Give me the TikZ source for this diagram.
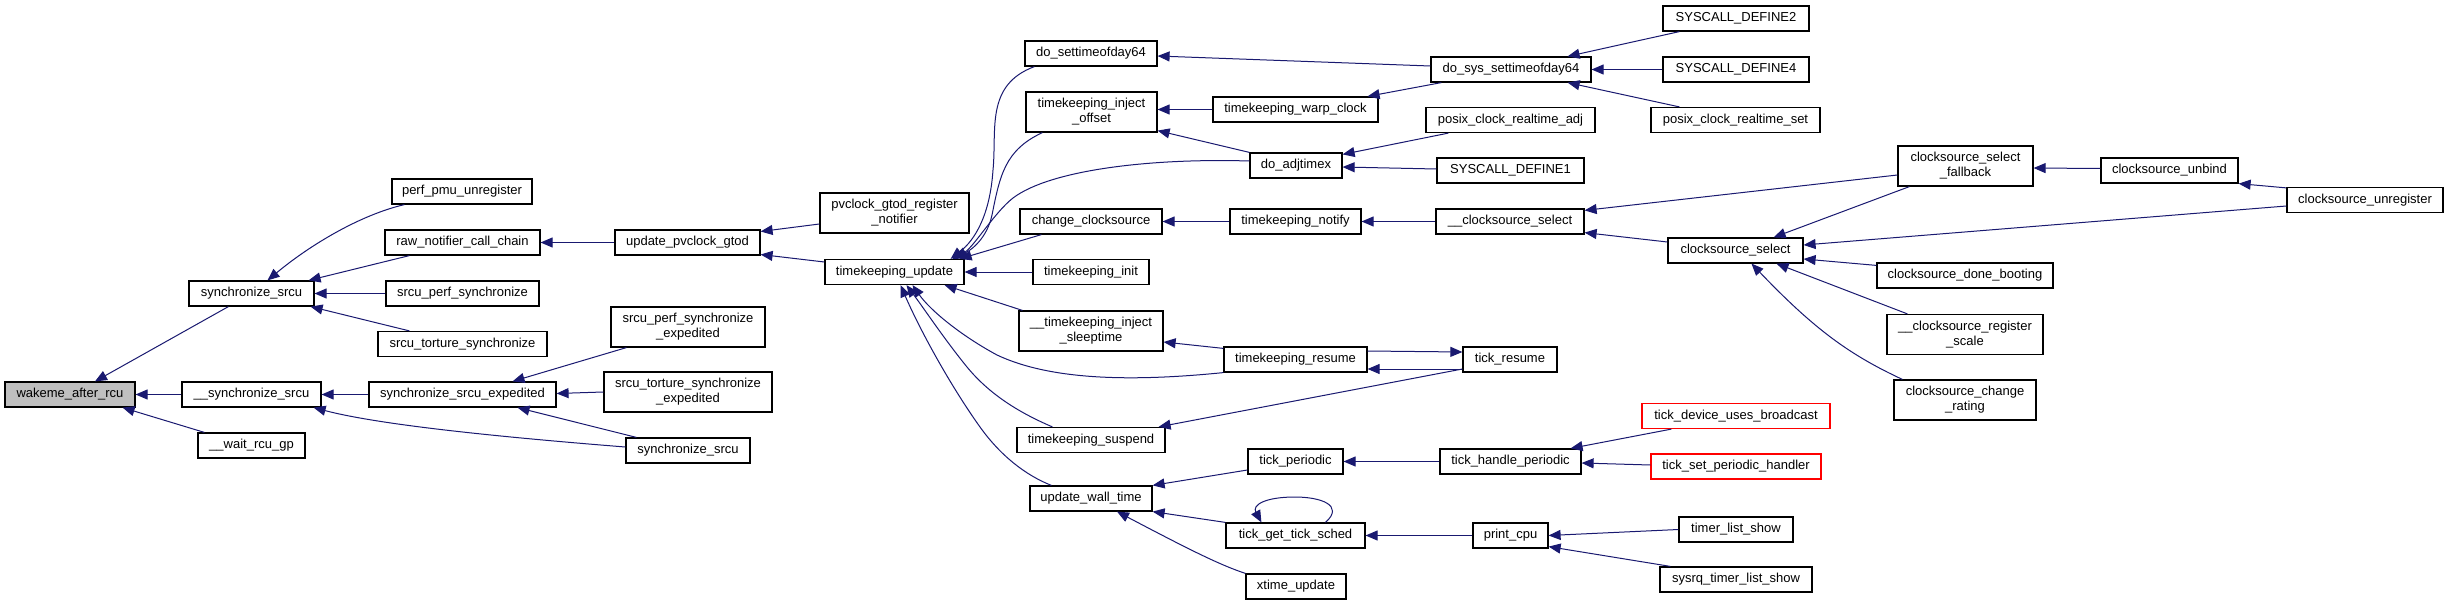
\documentclass[tikz,border=0pt]{standalone}
\usepackage{fontspec}
\setmainfont{Liberation Sans}
\usetikzlibrary{arrows.meta,calc}
\definecolor{edgec}{HTML}{191970}
\tikzset{
 box/.style={draw=black, line width=0.6pt, fill=white, inner sep=0pt, font=\fontsize{6.5}{7.5}\selectfont, align=center},
 wh/.style 2 args={minimum width=#1*0.5pt, minimum height=#2*0.5pt},
 edge/.style={draw=edgec, line width=0.5pt, -{Triangle[length=6pt,width=5pt]}},
 redbox/.style={draw=red},
 mainbox/.style={fill=black!25},
}
\begin{document}
\begin{tikzpicture}[x=0.5pt,y=-0.5pt]
\useasboundingbox[fill=white] (0,0) rectangle (2448,605);
% nodes
\node[box,mainbox,wh={130}{25}] (wake) at (70,394.5) {wakeme\_after\_rcu};
\node[box,wh={125}{25}] (sync1) at (251.5,293.5) {synchronize\_srcu};
\node[box,wh={139}{25}] (usync) at (251.5,394.5) {\_\_synchronize\_srcu};
\node[box,wh={107}{25}] (wait) at (251.5,445.5) {\_\_wait\_rcu\_gp};
\node[box,wh={140}{25}] (pmu) at (462,191.5) {perf\_pmu\_unregister};
\node[box,wh={155}{25}] (raw) at (462.5,242.5) {raw\_notifier\_call\_chain};
\node[box,wh={153}{25}] (sps) at (462.5,293.5) {srcu\_perf\_synchronize};
\node[box,wh={169}{25}] (sts) at (462.5,344) {srcu\_torture\_synchronize};
\node[box,wh={187}{25}] (sexp) at (462.5,394.5) {synchronize\_srcu\_expedited};
\node[box,wh={145}{25}] (upc) at (687.5,242.5) {update\_pvclock\_gtod};
\node[box,wh={154}{40}] (spse) at (688,327) {srcu\_perf\_synchronize\\\_expedited};
\node[box,wh={168}{40}] (stse) at (688,392) {srcu\_torture\_synchronize\\\_expedited};
\node[box,wh={124}{25}] (sync2) at (688,450.5) {synchronize\_srcu};
\node[box,wh={149}{40}] (pvr) at (894.5,213) {pvclock\_gtod\_register\\\_notifier};
\node[box,wh={139}{25}] (tku) at (894.5,272) {timekeeping\_update};
\node[box,wh={132}{25}] (dsod) at (1091,53.5) {do\_settimeofday64};
\node[box,wh={131}{40}] (tio) at (1091.5,112) {timekeeping\_inject\\\_offset};
\node[box,wh={142}{25}] (chc) at (1091,221.5) {change\_clocksource};
\node[box,wh={116}{25}] (tki) at (1091,272) {timekeeping\_init};
\node[box,wh={144}{40}] (tis) at (1091,331) {\_\_timekeeping\_inject\\\_sleeptime};
\node[box,wh={148}{25}] (tks) at (1091,440) {timekeeping\_suspend};
\node[box,wh={122}{25}] (uwt) at (1091,498.5) {update\_wall\_time};
\node[box,wh={160}{25}] (dss) at (1511,69.5) {do\_sys\_settimeofday64};
\node[box,wh={165}{25}] (warp) at (1295.5,109.5) {timekeeping\_warp\_clock};
\node[box,wh={92}{25}] (adj) at (1296,165.5) {do\_adjtimex};
\node[box,wh={131}{25}] (tkn) at (1295.5,221.5) {timekeeping\_notify};
\node[box,wh={143}{25}] (tkr) at (1295.5,359.5) {timekeeping\_resume};
\node[box,wh={95}{25}] (tp) at (1295.5,461.5) {tick\_periodic};
\node[box,wh={139}{25}] (tg) at (1295.5,535.5) {tick\_get\_tick\_sched};
\node[box,wh={100}{25}] (xt) at (1296,586.5) {xtime\_update};
\node[box,wh={146}{25}] (sys2) at (1736,18.5) {SYSCALL\_DEFINE2};
\node[box,wh={146}{25}] (sys4) at (1736,69.5) {SYSCALL\_DEFINE4};
\node[box,wh={169}{25}] (pset) at (1735.5,120) {posix\_clock\_realtime\_set};
\node[box,wh={169}{25}] (padj) at (1510.5,120) {posix\_clock\_realtime\_adj};
\node[box,wh={147}{25}] (sys1) at (1510.5,170.5) {SYSCALL\_DEFINE1};
\node[box,wh={148}{25}] (ucs) at (1510,221.5) {\_\_clocksource\_select};
\node[box,wh={135}{25}] (css) at (1735.5,250.5) {clocksource\_select};
\node[box,wh={94}{25}] (tr) at (1510,359.5) {tick\_resume};
\node[box,redbox,wh={188}{25}] (tdb) at (1736,416) {tick\_device\_uses\_broadcast};
\node[box,redbox,wh={170}{25}] (tsph) at (1736,466.5) {tick\_set\_periodic\_handler};
\node[box,wh={141}{25}] (thp) at (1510.5,461.5) {tick\_handle\_periodic};
\node[box,wh={75}{25}] (pc) at (1510.5,535.5) {print\_cpu};
\node[box,wh={114}{25}] (tls) at (1736,529.5) {timer\_list\_show};
\node[box,wh={152}{25}] (sq) at (1736,579.5) {sysrq\_timer\_list\_show};
\node[box,wh={135}{40}] (fb) at (1965.5,166) {clocksource\_select\\\_fallback};
\node[box,wh={137}{25}] (unb) at (2169.5,170.5) {clocksource\_unbind};
\node[box,wh={156}{25}] (unr) at (2365,200) {clocksource\_unregister};
\node[box,wh={176}{25}] (csd) at (1965,275.5) {clocksource\_done\_booting};
\node[box,wh={156}{40}] (rs) at (1965,334.5) {\_\_clocksource\_register\\\_scale};
\node[box,wh={142}{40}] (cr) at (1965,400) {clocksource\_change\\\_rating};
% edges
\draw[edge] ($(sync1.south west)+(40,0)$) -- ($(wake.north)+(25,0)$);
\draw[edge] (usync.west) -- (wake.east);
\draw[edge] ($(wait.north west)+(7,0)$) -- ($(wake.south east)+(-13,0)$);
\draw[edge] ($(pmu.south west)+(13,0)$) .. controls (360,215) and (310,245) .. ($(sync1.north)+(16,0)$);
\draw[edge] ($(raw.south west)+(25,0)$) -- ($(sync1.north east)+(-6,0)$);
\draw[edge] (sps.west) -- (sync1.east);
\draw[edge] ($(sts.north west)+(32,0)$) -- ($(sync1.south east)+(-4,0)$);
\draw[edge] (upc.west) -- (raw.east);
\draw[edge] (sexp.west) -- (usync.east);
\draw[edge] ($(sync2.west)+(0,-3.5)$) .. controls (500,437) and (380,425) .. ($(usync.south east)+(-8,0)$);
\draw[edge] ($(spse.south west)+(16,0)$) -- ($(sexp.north)+(50,0)$);
\draw[edge] (stse.west) -- ($(sexp.east)+(0,-1)$);
\draw[edge] ($(sync2.north west)+(11,0)$) -- ($(sexp.south)+(55,0)$);
\draw[edge] ($(pvr.west)+(0,11)$) -- ($(upc.east)+(0,-11)$);
\draw[edge] ($(tku.west)+(0,-10)$) -- ($(upc.east)+(0,12)$);
\draw[edge] ($(dsod.south west)+(10,0)$) .. controls (985,85) and (997,130) .. (993,170) .. controls (990,215) and (975,240) .. ($(tku.north east)+(-14,0)$);
\draw[edge] ($(tio.south west)+(17,0)$) .. controls (1005,150) and (1000,175) .. (992,215) .. controls (987,238) and (972,250) .. ($(tku.north east)+(-12,0)$);
\draw[edge] ($(adj.west)+(0,-4.5)$) .. controls (1150,158) and (1050,170) .. (1013,198) .. controls (995,212) and (975,245) .. ($(tku.north east)+(-9,0)$);
\draw[edge] ($(chc.south west)+(22,0)$) -- ($(tku.north east)+(-5,0)$);
\draw[edge] (tki.west) -- (tku.east);
\draw[edge] ($(tis.north west)+(4,0)$) -- ($(tku.south east)+(-20,0)$);
\draw[edge] (tkr.south west) .. controls (1130,382) and (1050,380) .. (997,355) .. controls (960,335) and (930,310) .. ($(tku.south)+(18,0)$);
\draw[edge] ($(tks.north west)+(36,0)$) .. controls (1020,413) and (990,395) .. (967,367) .. controls (945,340) and (925,310) .. ($(tku.south)+(12,0)$);
\draw[edge] ($(uwt.north west)+(22,0)$) .. controls (1025,475) and (1000,455) .. (980,427) .. controls (950,385) and (920,330) .. ($(tku.south)+(6,0)$);
\draw[edge] ($(dss.west)+(0,-3.5)$) -- ($(dsod.east)+(0,2.5)$);
\draw[edge] (warp.west) -- (warp.west -| tio.east);
\draw[edge] (adj.north west) -- ($(tio.south east)+(0,-2)$);
\draw[edge] (tkn.west) -- (chc.east);
\draw[edge] ($(tkr.north west)+(0,2)$) -- ($(tis.east)+(0,11)$);
\draw[edge] ($(tr.west)+(0,9.5)$) -- ($(tks.north east)+(-7,0)$);
\draw[edge] ($(tp.west)+(0,8.5)$) -- (uwt.north east);
\draw[edge] (tg.north west) -- (uwt.south east);
\draw[edge] (xt.north west) .. controls (1220,565) and (1190,550) .. ($(uwt.south)+(26,0)$);
\draw[edge] ($(dss.south west)+(11,0)$) -- ($(warp.north east)+(-11,0)$);
\draw[edge] ($(padj.south west)+(23,0)$) -- ($(adj.north east)+(0,2)$);
\draw[edge] ($(sys1.west)+(0,-1.5)$) -- ($(adj.east)+(0,1.5)$);
\draw[edge] (ucs.west) -- (tkn.east);
\draw[edge] ($(tr.west)+(0,9.5)$) -- ($(tkr.east)+(0,9.5)$);
\draw[edge] ($(tkr.east)+(0,-8.5)$) -- ($(tr.west)+(0,-7.5)$);
\draw[edge] (thp.west) -- (tp.east);
\draw[edge] (pc.west) -- (tg.east);
\draw[edge] ($(tg.north)+(30,0)$) .. controls (1345,505) and (1320,497) .. (1295,497) .. controls (1265,497) and (1252,505) .. ($(tg.north west)+(36,0)$);
\draw[edge] ($(sys2.south west)+(17,0)$) -- ($(dss.north east)+(-24,0)$);
\draw[edge] (sys4.west) -- (dss.east);
\draw[edge] ($(pset.north west)+(29,0)$) -- ($(dss.south east)+(-24,0)$);
\draw[edge] ($(fb.west)+(0,9)$) -- ($(ucs.north east)+(0,2)$);
\draw[edge] ($(css.west)+(0,-8.5)$) -- ($(ucs.south east)+(0,-2)$);
\draw[edge] ($(tdb.south west)+(30,0)$) -- ($(thp.north east)+(-11,0)$);
\draw[edge] ($(tsph.west)+(0,-1.5)$) -- ($(thp.east)+(0,1.5)$);
\draw[edge] (tls.west) -- (pc.east);
\draw[edge] ($(sq.north west)+(11,0)$) -- ($(pc.south east)+(0,-2)$);
\draw[edge] ($(unb.west)+(0,-2)$) -- ($(fb.east)+(0,2)$);
\draw[edge] ($(fb.south west)+(12,0)$) -- ($(css.north east)+(-30,0)$);
\draw[edge] ($(unr.west)+(0,6)$) -- ($(css.east)+(0,-5.5)$);
\draw[edge] ($(unr.north west)+(0,1)$) -- (unb.south east);
\draw[edge] ($(csd.north west)+(0,3)$) -- ($(css.east)+(0,8.5)$);
\draw[edge] ($(rs.north west)+(21,0)$) -- ($(css.south)+(41,0)$);
\draw[edge] ($(cr.north west)+(9,0)$) .. controls (1850,355) and (1815,330) .. ($(css.south)+(16,0)$);
\end{tikzpicture}
\end{document}
